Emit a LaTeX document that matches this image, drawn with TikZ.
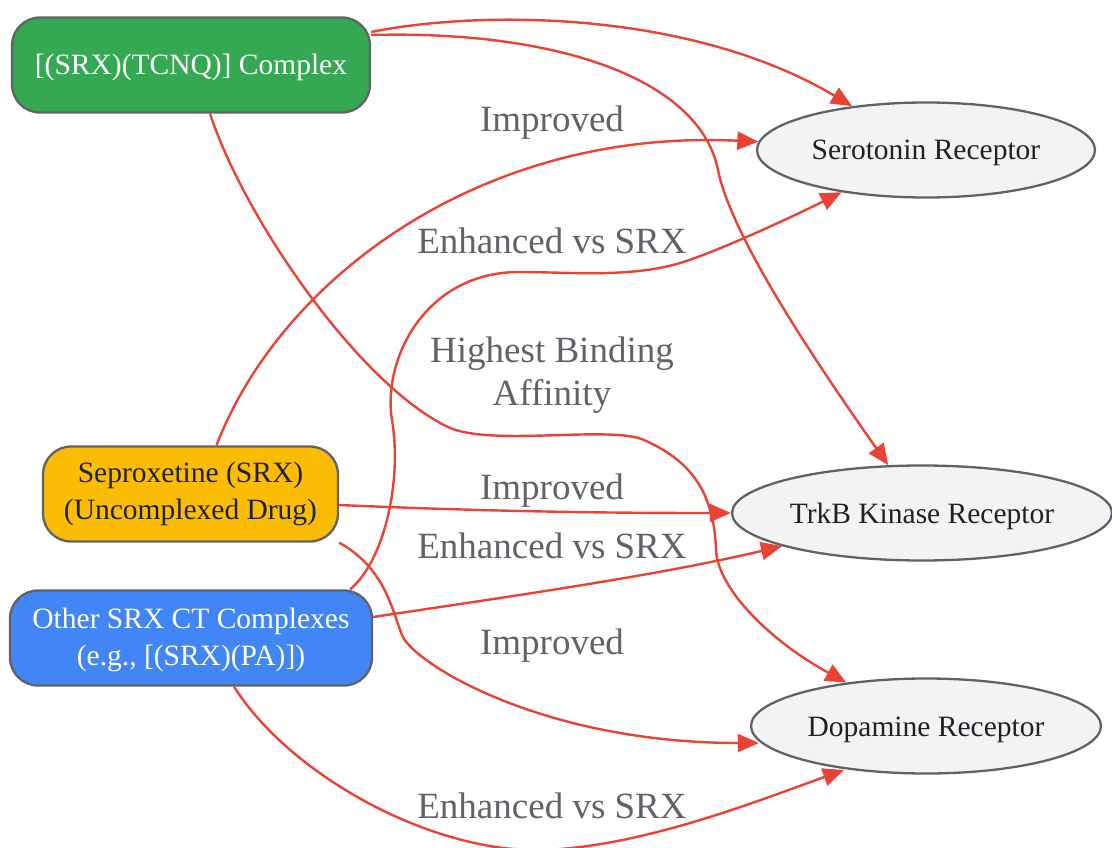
\documentclass[tikz,border=0pt]{standalone}
\usepackage{fontspec}
\setmainfont{Liberation Serif}
\usetikzlibrary{arrows.meta,shapes.geometric}
\definecolor{greenc}{HTML}{34A853}
\definecolor{yellowc}{HTML}{FBBC04}
\definecolor{bluec}{HTML}{4285F4}
\definecolor{ellc}{HTML}{F1F3F4}
\definecolor{bordc}{HTML}{5F6368}
\definecolor{edgec}{HTML}{EA4335}
\definecolor{lblc}{HTML}{5F6368}
\definecolor{darktxt}{HTML}{202124}
\newcommand\mynodefont{\fontsize{29.5}{37}\selectfont}
\newcommand\mylabelfont{\fontsize{37}{43}\selectfont}
\begin{document}
\begin{tikzpicture}[x=1pt,y=-1pt,
  box/.style={draw=bordc,line width=2.3pt,rounded corners=28pt,minimum height=95pt,inner sep=0pt,align=center,font=\mynodefont},
  ell/.style={ellipse,draw=bordc,fill=ellc,line width=2.3pt,minimum height=95pt,inner sep=0pt,font=\mynodefont,text=darktxt,text height=27pt,text depth=7pt},
  conn/.style={draw=edgec,line width=2.4pt,-{Triangle[length=21pt,width=18pt]}},
  lbl/.style={font=\mylabelfont,text=lblc,align=center,inner sep=0pt}]
\useasboundingbox (0,0) rectangle (1112,848);

\node[box,fill=greenc,text=white,minimum width=358pt,text height=25pt,text depth=6pt] (g) at (191,65) {[(SRX)(TCNQ)] Complex};
\node[box,fill=yellowc,text=darktxt,minimum width=295pt] (y) at (190.5,494) {Seproxetine (SRX)\\(Uncomplexed Drug)};
\node[box,fill=bluec,text=white,minimum width=362pt] (b) at (191,638) {\rule{0pt}{24pt}Other SRX CT Complexes\\(e.g., [(SRX)(PA)])};
\node[ell,minimum width=338pt] (s) at (926,150) {Serotonin Receptor};
\node[ell,minimum width=380pt] (t) at (922,513) {TrkB Kinase Receptor};
\node[ell,minimum width=350pt] (d) at (926,726) {Dopamine Receptor};

% edges
\draw[conn] ([yshift=33pt]g.east) .. controls (480,10) and (690,10) .. (s);
\draw[conn] ([yshift=30pt]g.east) .. controls (560,30) and (700,80) .. (718,170) .. controls (730,230) and (800,340) .. (t);
\draw[conn] ([xshift=19pt]g.south) .. controls (245,220) and (360,385) .. (448,427) .. controls (490,447) and (610,425) .. (644,440) .. controls (689,460) and (714,490) .. (716,550) .. controls (718,590) and (772,642) .. (d);
\draw[conn] ([xshift=26pt]y.north) .. controls (280,280) and (480,128) .. (s);
\draw[conn] ([xshift=-23pt]b.north east) .. controls (385,560) and (402,480) .. (392,420) .. controls (382,360) and (425,272) .. (519,272) .. controls (570,272) and (630,278) .. (680,263) .. controls (715,252.5) and (790,218) .. (s);
\draw[conn] ([yshift=-11pt]y.east) .. controls (500,512) and (620,513) .. (t);
\draw[conn] ([yshift=21pt]b.east) .. controls (520,595) and (660,575) .. (t);
\draw[conn] (y.south east) .. controls (385,568) and (392,610) .. (402,635) .. controls (412,662) and (540,743) .. ([xshift=9pt,yshift=-17pt]d.west);
\draw[conn] ([xshift=43pt]b.south) .. controls (290,775) and (430,852) .. (540,850) .. controls (640,848) and (760,800) .. ([xshift=-82pt,yshift=-44pt]d.center);

% labels
\node[lbl,anchor=base] (l1) at (552,132) {Improved};
\node[lbl,anchor=base] (l2) at (552,254) {Enhanced vs SRX};
\node[lbl] (l3) at (552,375) {Highest Binding\\Affinity};
\node[lbl,anchor=base] (l4) at (552,499) {Improved};
\node[lbl,anchor=base] (l5) at (552,558) {Enhanced vs SRX};
\node[lbl,anchor=base] (l6) at (552,654) {Improved};
\node[lbl,anchor=base] (l7) at (552,818) {Enhanced vs SRX};
\end{tikzpicture}
\end{document}
